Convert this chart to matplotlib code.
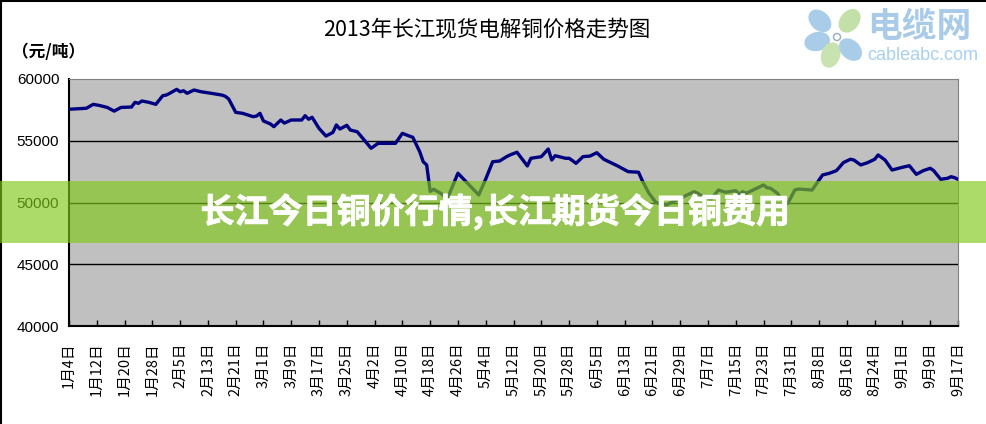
import matplotlib
matplotlib.use("Agg")
import matplotlib.dates as mdates
import matplotlib.patheffects as pe
import matplotlib.pyplot as plt
import numpy as np
import pandas as pd
from matplotlib.patches import Ellipse, Rectangle
from matplotlib.ticker import FixedLocator, FuncFormatter
from matplotlib.transforms import IdentityTransform

# 2013 spot copper price (yuan/ton)
dates = [
    "01-04", "01-09", "01-11", "01-13", "01-15", "01-17", "01-19", "01-22", "01-23", "01-24",
    "01-25", "01-27", "01-29", "01-31",
    "02-01", "02-02", "02-04", "02-05", "02-06", "02-07", "02-09", "02-11", "02-14", "02-17",
    "02-18", "02-19", "02-21", "02-23", "02-26", "02-27", "02-28",
    "03-01", "03-03", "03-04", "03-06", "03-07", "03-09", "03-12", "03-13", "03-14", "03-15",
    "03-17", "03-19", "03-21", "03-22", "03-23", "03-25", "03-26", "03-28",
    "04-01", "04-03", "04-08", "04-10", "04-12", "04-13", "04-15", "04-16", "04-17", "04-18",
    "04-19", "04-21", "04-23", "04-26",
    "05-02", "05-04", "05-06", "05-08", "05-10", "05-11", "05-13", "05-16", "05-17", "05-20",
    "05-22", "05-23", "05-24", "05-27", "05-28", "05-29", "05-30",
    "06-01", "06-03", "06-05", "06-07", "06-11", "06-14", "06-17", "06-18", "06-20", "06-22",
    "06-25",
    "07-01", "07-03", "07-04", "07-06", "07-08", "07-10", "07-12", "07-15", "07-16", "07-17",
    "07-18", "07-20", "07-23", "07-24", "07-25", "07-27", "07-28", "07-30",
    "08-01", "08-02", "08-06", "08-08", "08-09", "08-11", "08-13", "08-15", "08-17", "08-18",
    "08-20", "08-22", "08-24", "08-25", "08-27", "08-29",
    "09-01", "09-03", "09-05", "09-07", "09-09", "09-10", "09-12", "09-14", "09-15", "09-16",
    "09-17",
]
prices = [
    57550, 57630, 57950, 57840, 57700, 57400, 57700, 57730, 58110, 58030,
    58220, 58110, 57950, 58650,
    58700, 58840, 59160, 58970, 59050, 58840, 59110, 58970, 58840, 58700,
    58600, 58380, 57300, 57220, 56950, 57000, 57220,
    56600, 56360, 56140, 56680, 56430, 56680, 56680, 57030, 56740, 56900,
    56000, 55380, 55680, 56280, 55950, 56250, 55870, 55730,
    54390, 54790, 54790, 55600, 55380, 55280, 54110, 53300, 53040, 50900,
    51070, 50750, 50340, 52370,
    50610, 51900, 53300, 53360, 53710, 53850, 54070, 52960, 53580, 53710,
    54330, 53440, 53790, 53580, 53580, 53390, 53170,
    53710, 53760, 54030, 53500, 52960, 52500, 52450, 51820, 50750, 50000,
    49800,
    50610, 50880, 50750, 50400, 50300, 51010, 50830, 50960, 50670, 50880,
    50750, 51010, 51420, 51200, 51150, 50750, 50340, 49930,
    51010, 51090, 51010, 51820, 52230, 52370, 52580, 53230, 53500, 53440,
    53040, 53230, 53500, 53850, 53440, 52630,
    52850, 52980, 52280, 52580, 52770, 52580, 51880, 51960, 52090, 52010,
    51880,
]
y_ticks = [40000, 45000, 50000, 55000, 60000]

title = "2013年长江现货电解铜价格走势图"
unit_label = "（元/吨）"
banner_text = "长江今日铜价行情,长江期货今日铜费用"

CJK = ["Noto Sans CJK SC", "DejaVu Sans"]
plt.rcParams["font.family"] = CJK

W, H = 986, 424
fig = plt.figure(figsize=(W / 100, H / 100), dpi=100)
fig.patch.set_facecolor("white")

ax = fig.add_axes([69 / W, 1 - 326 / H, (958 - 69) / W, (326 - 79) / H])
ax.set_facecolor("#c0c0c0")

x = pd.to_datetime(["2013-" + d for d in dates])
ax.plot(x, prices, color="#000080", linewidth=2.4, solid_joinstyle="round", zorder=3)

start = pd.Timestamp("2013-01-04")
end = pd.Timestamp("2013-09-17")
ax.set_xlim(start, end)
ax.set_ylim(40000, 60000)

# x ticks every 8 days
tick_days = pd.date_range(start, end, freq="8D")
ax.xaxis.set_major_locator(FixedLocator(mdates.date2num(tick_days.to_pydatetime())))
ax.xaxis.set_major_formatter(
    FuncFormatter(lambda v, _: f"{mdates.num2date(v).month}月{mdates.num2date(v).day}日")
)
ax.tick_params(axis="x", direction="in", length=4, width=1, pad=12, labelsize=10.5,
               labelrotation=90, color="black")
for lab in ax.get_xticklabels():
    lab.set_verticalalignment("top")

ax.set_yticks(y_ticks)
ax.yaxis.set_major_formatter(FuncFormatter(lambda v, _: f"{int(v)}"))
ax.tick_params(axis="y", length=0, pad=7, labelsize=11)
for lab in ax.get_yticklabels():
    lab.set_family(["Liberation Sans", "DejaVu Sans"])

for v in [45000, 50000, 55000]:
    ax.axhline(v, color="black", linewidth=1.0, zorder=2)

ax.spines["left"].set_color("black")
ax.spines["left"].set_linewidth(1.5)
ax.spines["bottom"].set_color("black")
ax.spines["bottom"].set_linewidth(1.5)
ax.spines["top"].set_color("#808080")
ax.spines["right"].set_color("#808080")

fig.text(487 / W, 1 - 30 / H, title, ha="center", va="center", fontsize=15.5,
         color="black", fontweight="medium")
fig.text(12 / W, 1 - 52 / H, unit_label, ha="left", va="center", fontsize=12,
         color="black", fontweight="bold")

# outer chart border (left and top edges visible)
fig.add_artist(plt.Line2D([0.5 / W, 0.5 / W], [0, 1], color="black", linewidth=1.5))
fig.add_artist(plt.Line2D([0, 1], [1 - 0.5 / H, 1 - 0.5 / H], color="black", linewidth=1.5))

# watermark logo (flower drawn in pixel space)
cx, cy = 837, H - 37
petals = [((-19, 18), "#a9cde9"), ((14, 18), "#c3e0a8"), ((-22, -5), "#a9cde9"),
          ((-7, -20), "#c8e3b0"), ((15, -14), "#a9cde9")]
for (dx, dy), c in petals:
    ang = np.degrees(np.arctan2(dy, dx))
    fig.add_artist(Ellipse((cx + dx * 0.9, cy + dy * 0.9), 26, 19, angle=ang, facecolor=c,
                           edgecolor="none", transform=IdentityTransform(), zorder=5))
fig.add_artist(Ellipse((cx, cy), 7, 7, facecolor="white", edgecolor="#99aabb",
                       linewidth=1, transform=IdentityTransform(), zorder=6))
fig.text(919 / W, 1 - 27 / H, "电缆网", ha="center", va="center", fontsize=25,
         color="#a9cbe8", fontweight="bold", zorder=6)
fig.text(923 / W, 1 - 56 / H, "cableabc.com", ha="center", va="center", fontsize=13,
         color="#a9d0ee", family=["Liberation Sans", "DejaVu Sans"], zorder=6)

# green banner overlay
fig.add_artist(Rectangle((0, 1 - 243 / H), 1, 62 / H, facecolor=(0.51, 0.79, 0.10),
                         alpha=0.65, edgecolor="none", transform=fig.transFigure, zorder=10))
fig.text(495 / W, 1 - 212 / H, banner_text, ha="center", va="center", fontsize=24.5,
         color="white", fontweight="heavy", zorder=11,
         path_effects=[pe.withStroke(linewidth=0.6, foreground="white")])

fig.savefig("out.png", dpi=100)
